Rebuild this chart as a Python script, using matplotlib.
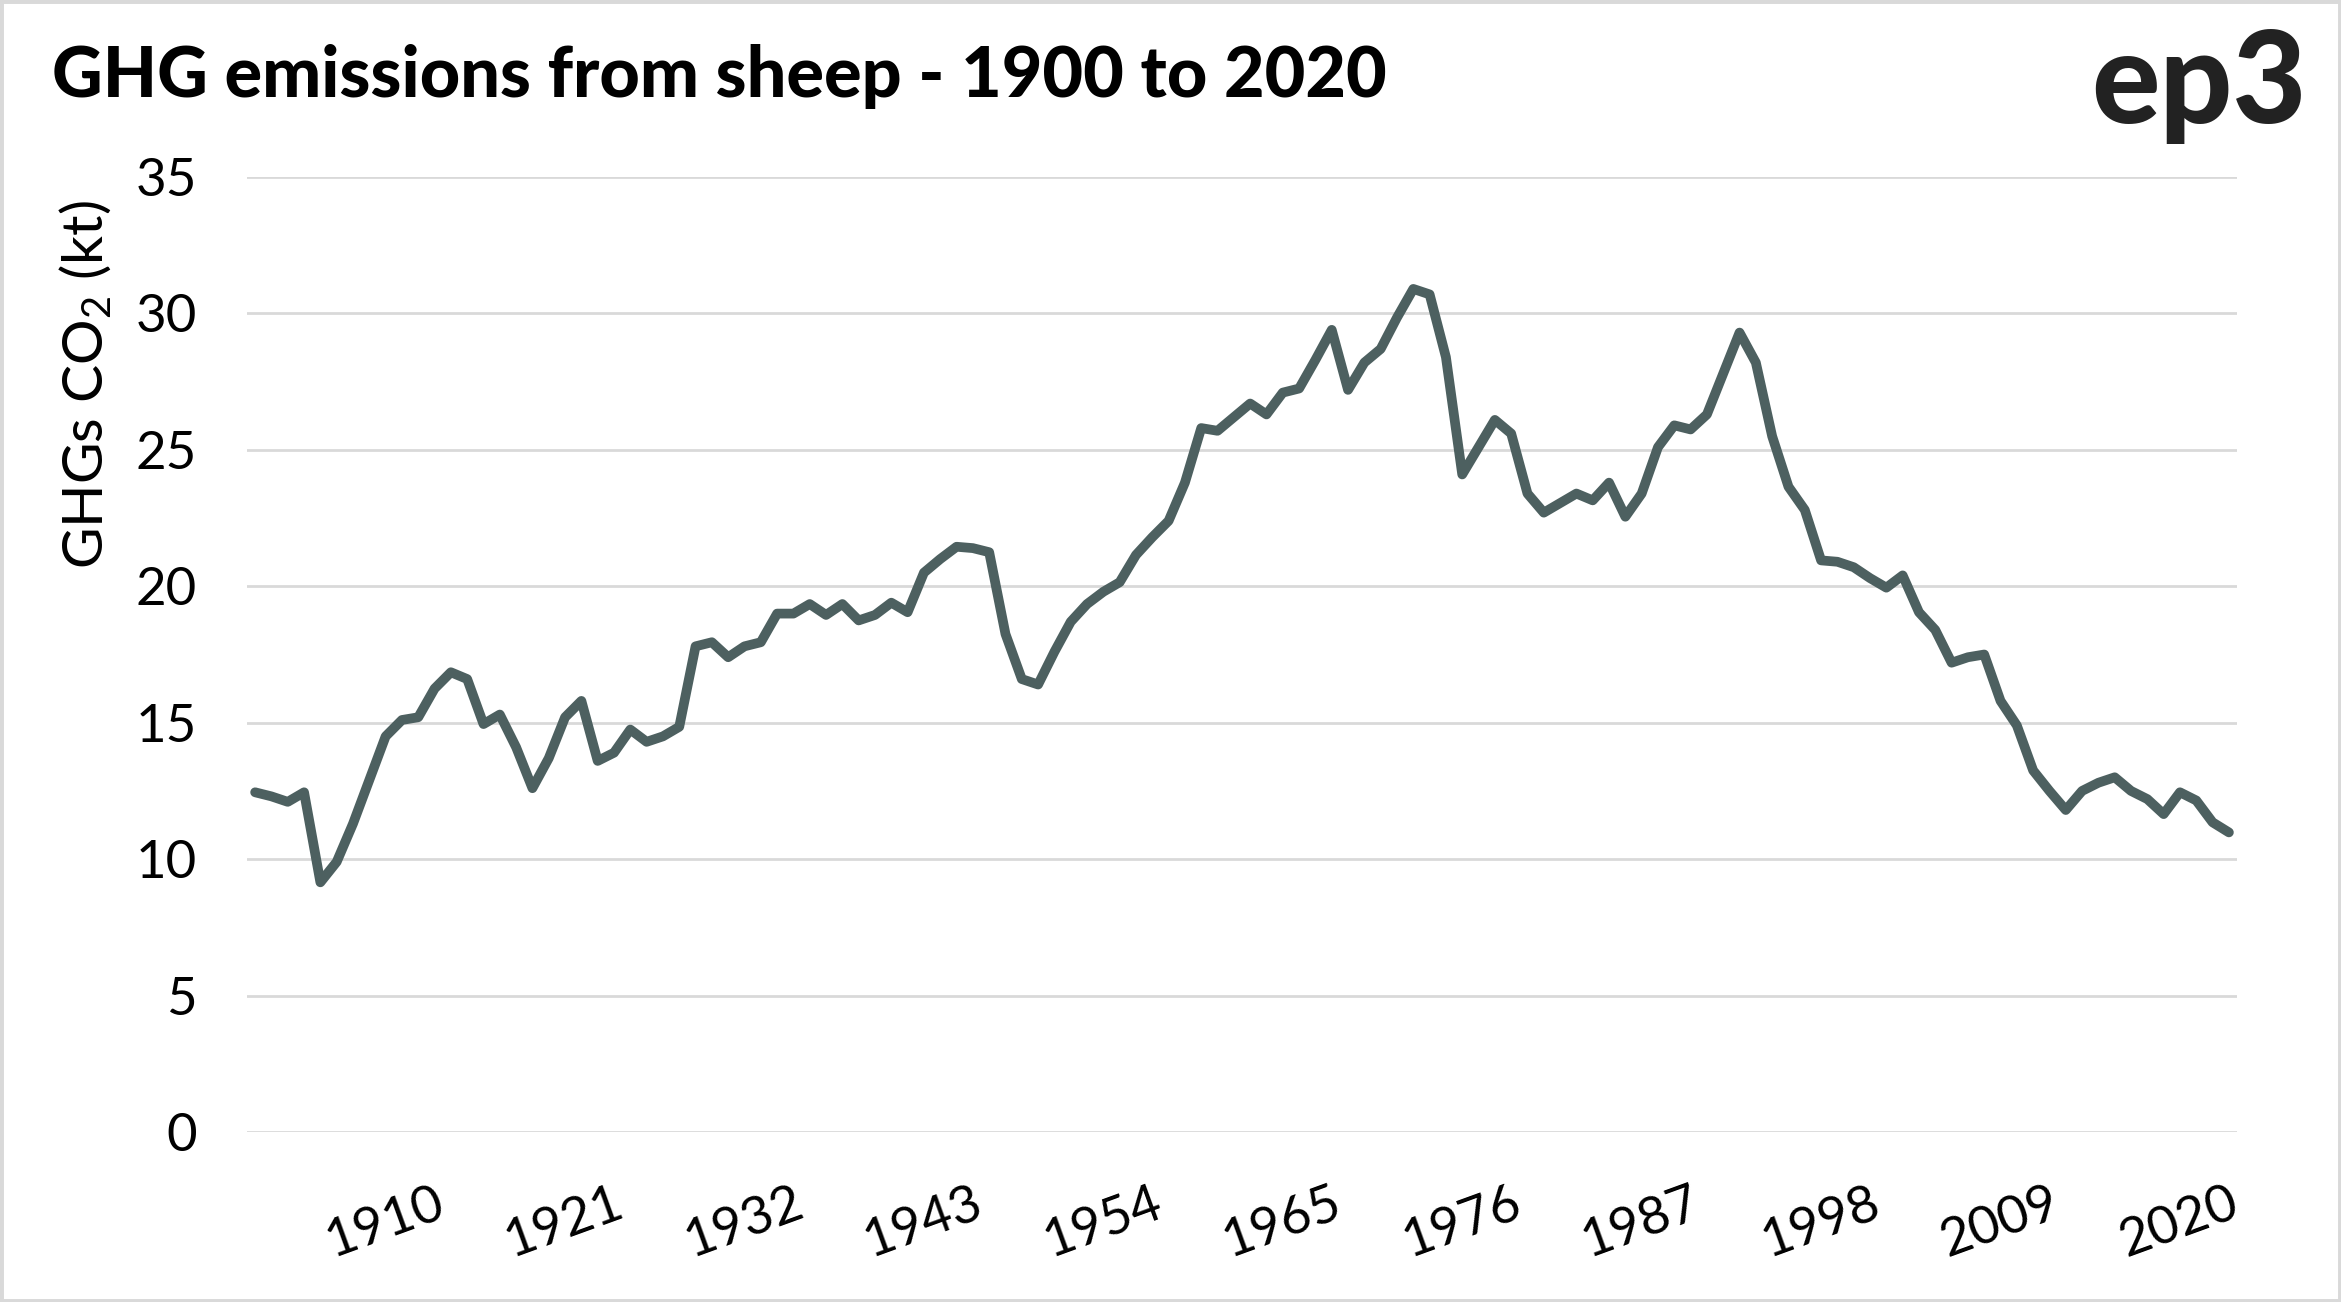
import matplotlib
matplotlib.use("Agg")
import matplotlib.pyplot as plt
from matplotlib.patches import Rectangle
import numpy as np

# sheep GHG emissions, kt CO2
years = list(range(1899, 2021))
emissions = [
    12.45, 12.3, 12.1, 12.45, 9.15, 9.9, 11.3, 12.9, 14.5, 15.1,     # 1899-1908
    15.2, 16.25, 16.85, 16.6, 14.95, 15.3, 14.1, 12.6, 13.7, 15.2,   # 1909-1918
    15.8, 13.6, 13.9, 14.75, 14.3, 14.5, 14.85, 17.8, 17.95, 17.4,   # 1919-1928
    17.8, 17.95, 19.0, 19.0, 19.35, 18.95, 19.35, 18.75, 18.95, 19.4, # 1929-1938
    19.05, 20.5, 21.0, 21.45, 21.4, 21.25, 18.25, 16.6, 16.4, 17.6,  # 1939-1948
    18.7, 19.35, 19.8, 20.15, 21.15, 21.8, 22.4, 23.8, 25.8, 25.7,   # 1949-1958
    26.2, 26.7, 26.3, 27.1, 27.25, 28.3, 29.4, 27.2, 28.2, 28.7,     # 1959-1968
    29.85, 30.9, 30.7, 28.4, 24.1, 25.1, 26.1, 25.6, 23.4, 22.7,     # 1969-1978
    23.05, 23.4, 23.15, 23.8, 22.55, 23.4, 25.1, 25.9, 25.75, 26.3,  # 1979-1988
    27.8, 29.3, 28.2, 25.5, 23.65, 22.8, 20.95, 20.9, 20.7, 20.3,    # 1989-1998
    19.95, 20.4, 19.05, 18.4, 17.2, 17.4, 17.5, 15.8, 14.9, 13.25,   # 1999-2008
    12.5, 11.8, 12.5, 12.8, 13.0, 12.5, 12.2, 11.65, 12.45, 12.15,   # 2009-2018
    11.35, 10.98,                                                    # 2019-2020
]
xtick_years = [1910, 1921, 1932, 1943, 1954, 1965, 1976, 1987, 1998, 2009, 2020]
ytick_vals = [0, 5, 10, 15, 20, 25, 30, 35]

plt.rcParams['font.family'] = ['Lato', 'DejaVu Sans']
plt.rcParams['mathtext.default'] = 'regular'

fig = plt.figure(figsize=(23.41, 13.02), dpi=100)
ax = fig.add_axes([0.1055, 0.1306, 0.8501, 0.7334])

ax.plot(years, emissions, color='#4d6060', linewidth=7,
        solid_joinstyle='round', solid_capstyle='round', zorder=3)

ax.set_xlim(1898.5, 2020.5)
ax.set_ylim(0, 35)
ax.set_yticks(ytick_vals)
ax.set_xticks(xtick_years)
ax.set_xticklabels([str(y) for y in xtick_years], rotation=20,
                   ha='right', va='top', rotation_mode='anchor')
ax.tick_params(axis='both', length=0, labelsize=38, colors='black')
ax.tick_params(axis='y', pad=36)
ax.tick_params(axis='x', pad=34)
ax.grid(axis='y', color='#d9d9d9', linewidth=2)
ax.set_axisbelow(True)
for s in ax.spines.values():
    s.set_visible(False)

# axis title, sits up near the top of the axis
fig.text(86 / 2341, 1 - 385 / 1302, 'GHGs CO$_2$ (kt)', rotation=90,
         ha='center', va='center', fontsize=41)

fig.text(52 / 2341, 1 - 97 / 1302, 'GHG emissions from sheep - 1900 to 2020',
         fontsize=50.5, fontweight='black', ha='left', va='baseline')
fig.text(2307 / 2341, 1 - 123 / 1302, 'ep3', fontsize=92, fontweight='black',
         color='#222222', ha='right', va='baseline')

# light grey frame round the picture
fig.patches.append(Rectangle((0, 0), 1, 1, transform=fig.transFigure,
                             fill=False, edgecolor='#d9d9d9', linewidth=5))

fig.savefig('out.png', dpi=100, facecolor='white')
plt.close(fig)
